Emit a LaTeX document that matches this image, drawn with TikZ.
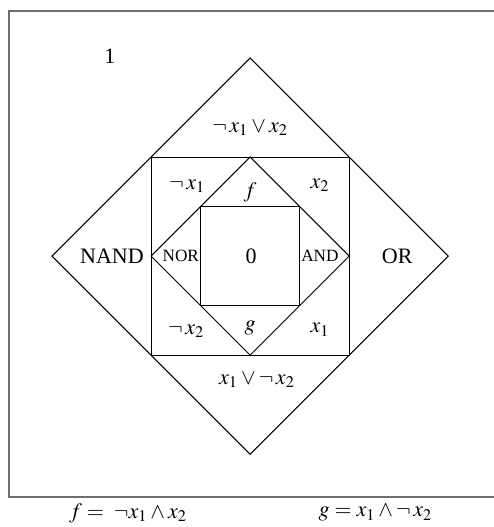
\documentclass[tikz,border=0pt]{standalone}
\usepackage{mathptmx}
\usepackage[no-math]{fontspec}
\setmainfont{Liberation Serif}
\definecolor{boxCol}{RGB}{110, 110, 110}

\begin{document}
\begin{tikzpicture}[
    x=24.75pt, y=24.75pt,
    font=\fontsize{11}{13}\selectfont,
    outline/.style={black, line width=0.5pt},
    gate/.style={font=\fontsize{8.6}{10}\selectfont, inner sep=0pt}
]
    \useasboundingbox (-5.05, 5.17) rectangle (4.91, -5.47);

    % ================= outer frame (right side cut off) =================
    \draw[boxCol, line width=0.8pt]
        (4.95, 4.95) -- (-4.87, 4.95) -- (-4.87, -4.87) -- (4.95, -4.87);

    % ================= nested diamonds and squares =================
    \draw[outline] (0, 4) -- (4, 0) -- (0, -4) -- (-4, 0) -- cycle;
    \draw[outline] (-2, -2) rectangle (2, 2);
    \draw[outline] (0, 2) -- (2, 0) -- (0, -2) -- (-2, 0) -- cycle;
    \draw[outline] (-1, -1) rectangle (1, 1);

    % ================= region labels =================
    \node (one)    at (-2.83, 4.04) {1};
    \node (orTop)  at ( 0.00, 2.59) {$\neg\,x_1 \vee x_2$};
    \node (nxOne)  at (-1.27, 1.41) {$\neg\,x_1$};
    \node (fTop)   at ( 0.00, 1.29) {$f$};
    \node (xTwo)   at ( 1.41, 1.43) {$x_2$};
    \node (nand)   at (-2.79, 0.00) {NAND};
    \node[gate] (nor)  at (-1.40, 0.00) {NOR};
    \node (zero)   at ( 0.02, 0.00) {0};
    \node[gate] (and)  at ( 1.41, 0.00) {AND};
    \node (orR)    at ( 2.97, 0.00) {OR};
    \node (nxTwo)  at (-1.29, -1.52) {$\neg\,x_2$};
    \node (gBot)   at ( 0.00, -1.45) {$g$};
    \node (xOne)   at ( 1.41, -1.49) {$x_1$};
    \node (orBot)  at ( 0.14, -2.50) {$x_1 \vee \neg\,x_2$};

    % ================= definitions below the frame =================
    \node (fDef) at (-2.46, -5.19) {$f = \;\neg x_1 \wedge x_2$};
    \node (gDef) at ( 2.53, -5.19) {$g = x_1 \wedge \neg\,x_2$};

\end{tikzpicture}
\end{document}
